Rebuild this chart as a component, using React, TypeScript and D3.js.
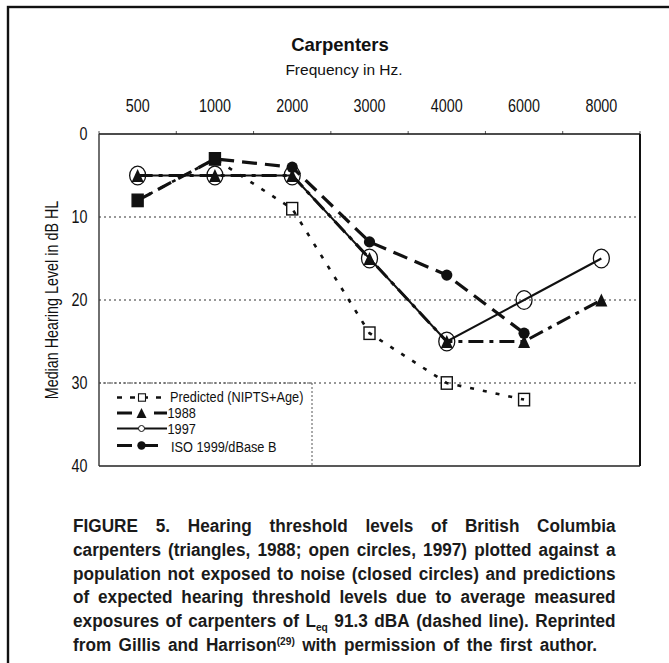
import React from "react";
import * as d3 from "d3";

// ---------- data ----------
const categories = ["500", "1000", "2000", "3000", "4000", "6000", "8000"];
const predicted: (number | null)[] = [8, 3, 9, 24, 30, 32, null];
const y1988: (number | null)[] = [5, 5, 5, 15, 25, 25, 20];
const y1997: (number | null)[] = [5, 5, 5, 15, 25, 20, 15];
const iso: (number | null)[] = [8, 3, 4, 13, 17, 24, null];
const yTicks = [0, 10, 20, 30, 40];
const gridValues = [10, 20, 30];
const legendLabels = ["Predicted (NIPTS+Age)", "1988", "1997", "ISO 1999/dBase B"];
const titleText = "Carpenters";
const subtitleText = "Frequency in Hz.";
const yLabelText = "Median Hearing Level in dB HL";

type Seg = { t: string; k?: "sub" | "sup" };
const captionLines: Seg[][][] = [
  "FIGURE 5. Hearing threshold levels of British Columbia".split(" ").map((w) => [{ t: w }]),
  "carpenters (triangles, 1988; open circles, 1997) plotted against a".split(" ").map((w) => [{ t: w }]),
  "population not exposed to noise (closed circles) and predictions".split(" ").map((w) => [{ t: w }]),
  "of expected hearing threshold levels due to average measured".split(" ").map((w) => [{ t: w }]),
  [
    ...("exposures of carpenters of".split(" ").map((w) => [{ t: w }] as Seg[])),
    [{ t: "L" }, { t: "eq", k: "sub" }],
    ...("91.3 dBA (dashed line). Reprinted".split(" ").map((w) => [{ t: w }] as Seg[])),
  ],
  [
    ...("from Gillis and".split(" ").map((w) => [{ t: w }] as Seg[])),
    [{ t: "Harrison" }, { t: "(29)", k: "sup" }],
    ...("with permission of the first author.".split(" ").map((w) => [{ t: w }] as Seg[])),
  ],
];

// ---------- font helpers ----------
const canvasCtx = (() => {
  try {
    return document.createElement("canvas").getContext("2d");
  } catch (e) {
    return null;
  }
})();

function fontAvailable(name: string): boolean {
  if (!canvasCtx) return false;
  const s = "mmmmmmmmmmlli1WWWabc";
  for (const base of ["monospace", "serif"]) {
    canvasCtx.font = `16px ${base}`;
    const a = canvasCtx.measureText(s).width;
    canvasCtx.font = `16px '${name}', ${base}`;
    const b = canvasCtx.measureText(s).width;
    if (Math.abs(a - b) > 0.01) return true;
  }
  return false;
}

const HAS_NARROW = fontAvailable("Liberation Sans Narrow");
const NARROW = HAS_NARROW ? "'Liberation Sans Narrow', 'Liberation Sans', Arial, sans-serif" : "'Liberation Sans', Arial, sans-serif";
const SX = HAS_NARROW ? 1 : 0.82;
const SANS = "'Liberation Sans', Arial, sans-serif";

function measure(text: string, font: string): number {
  if (!canvasCtx) return text.length * 8;
  canvasCtx.font = font;
  return canvasCtx.measureText(text).width;
}

// ---------- layout ----------
const W = 669;
const H = 663;
const plot = { left: 99, right: 640, top: 134, bottom: 466 };

const x = d3.scaleBand<string>().domain(categories).range([plot.left, plot.right]);
const cx = (c: string) => (x(c) as number) + x.bandwidth() / 2;
const y = d3.scaleLinear().domain([0, 40]).range([plot.top, plot.bottom]);

type Pt = { c: string; v: number | null };
const toPts = (arr: (number | null)[]): Pt[] => categories.map((c, i) => ({ c, v: arr[i] }));

const line = d3
  .line<Pt>()
  .defined((d) => d.v != null)
  .x((d) => cx(d.c))
  .y((d) => y(d.v as number));

const NText = ({ x: tx, y: ty, anchor, size, children, rotate, sx }: any) => (
  <text
    transform={`translate(${tx},${ty})${rotate ? ` rotate(${rotate})` : ""} scale(${sx ?? SX},1)`}
    textAnchor={anchor || "start"}
    fontFamily={NARROW}
    fontSize={size}
    fill="#111"
  >
    {children}
  </text>
);

function triPath(w: number, h: number) {
  return `M0,${-h / 2}L${w / 2},${h / 2}L${-w / 2},${h / 2}Z`;
}

function Caption() {
  const left = 73;
  const right = 615.5;
  const lastRight = 597;
  const size = 18.5;
  const small = 11;
  const base = 0.93;
  const mainFont = `bold ${size}px 'Liberation Sans', Arial, sans-serif`;
  const smallFont = `bold ${small}px 'Liberation Sans', Arial, sans-serif`;
  const out: JSX.Element[] = [];
  captionLines.forEach((tokens, li) => {
    const baseline = 532 + li * 23.8;
    const last = li === captionLines.length - 1;
    const target = (last ? lastRight : right) - left;
    const widths = tokens.map((tok) =>
      tok.reduce((s, seg) => s + measure(seg.t, seg.k ? smallFont : mainFont) * base, 0)
    );
    const total = widths.reduce((a, b) => a + b, 0);
    const normalSpace = measure(" ", mainFont) * base;
    let gap = (target - total) / (tokens.length - 1);
    let scale = base;
    let k = 1;
    if (gap < normalSpace * 0.7) {
      k = (target - normalSpace * 0.7 * (tokens.length - 1)) / total;
      gap = normalSpace * 0.7;
      scale = base * k;
    }
    let px = left;
    tokens.forEach((tok, ti) => {
      let sx = px;
      tok.forEach((seg, si) => {
        const f = seg.k ? smallFont : mainFont;
        const w = measure(seg.t, f) * scale;
        const dy = seg.k === "sub" ? 4 : seg.k === "sup" ? -6.5 : 0;
        out.push(
          <text
            key={`${li}-${ti}-${si}`}
            transform={`translate(${sx},${baseline + dy}) scale(${scale},1)`}
            fontFamily={SANS}
            fontWeight="bold"
            fontSize={seg.k ? small : size}
            fill="#1a1a1a"
          >
            {seg.t}
          </text>
        );
        sx += w;
      });
      px += widths[ti] * k + gap;
    });
  });
  return <g>{out}</g>;
}

export default function App() {
  const pPred = toPts(predicted);
  const p88 = toPts(y1988);
  const p97 = toPts(y1997);
  const pIso = toPts(iso);
  const boundaries = categories.map((c) => x(c) as number).concat([plot.right]);
  const legSX = SX * 1.05;

  return (
    <svg
      width={W}
      height={H}
      viewBox={`0 0 ${W} ${H}`}
      style={{ position: "absolute", left: 0, top: 0, background: "#fff" }}
    >
      <rect x={0} y={0} width={W} height={H} fill="#fff" />
      {/* outer frame */}
      <rect x={8} y={7} width={800} height={800} fill="none" stroke="#111" strokeWidth={2.4} />

      {/* title */}
      <text x={340} y={51} textAnchor="middle" fontFamily={SANS} fontWeight="bold" fontSize={18.5} fill="#111">
        {titleText}
      </text>
      <text x={344} y={75} textAnchor="middle" fontFamily={SANS} fontSize={15.5} fill="#111">
        {subtitleText}
      </text>

      {/* x labels (top) */}
      {categories.map((c) => (
        <NText key={c} x={cx(c)} y={111.5} anchor="middle" size={17.5}>
          {c}
        </NText>
      ))}
      {/* top tick marks */}
      {boundaries.map((b, i) => (
        <line key={i} x1={b} x2={b} y1={plot.top} y2={plot.top - 3} stroke="#555" strokeWidth={1} />
      ))}

      {/* y labels */}
      {yTicks.map((t) => (
        <NText key={t} x={87.5} y={y(t) + 6} anchor="end" size={17.5}>
          {t}
        </NText>
      ))}
      <NText x={58} y={(plot.top + plot.bottom) / 2} anchor="middle" size={17.5} rotate={-90}>
        {yLabelText}
      </NText>

      {/* grid lines */}
      {gridValues.map((g) => (
        <line
          key={g}
          x1={plot.left}
          x2={plot.right}
          y1={y(g)}
          y2={y(g)}
          stroke="#333"
          strokeWidth={1.2}
          strokeDasharray="2 3"
        />
      ))}

      {/* plot border */}
      <line x1={plot.left} x2={plot.right} y1={plot.top} y2={plot.top} stroke="#111" strokeWidth={1.6} />
      <line x1={plot.right} x2={plot.right} y1={plot.top} y2={plot.bottom} stroke="#111" strokeWidth={2} />
      <line x1={plot.left} x2={plot.right} y1={plot.bottom} y2={plot.bottom} stroke="#222" strokeWidth={1.6} />
      <line x1={plot.left} x2={plot.left} y1={plot.top} y2={plot.bottom} stroke="#333" strokeWidth={1.4} />

      {/* series lines */}
      <path d={line(pPred) || ""} fill="none" stroke="#111" strokeWidth={2.6} strokeDasharray="4 9" />
      <path d={line(p88) || ""} fill="none" stroke="#111" strokeWidth={3} strokeDasharray="15 6 4 6" />
      <path d={line(p97) || ""} fill="none" stroke="#111" strokeWidth={2} />
      <path d={line(pIso) || ""} fill="none" stroke="#111" strokeWidth={3.2} strokeDasharray="15 8" />

      {/* predicted squares */}
      {pPred
        .filter((d) => d.v != null)
        .map((d, i) => {
          const filled = iso[categories.indexOf(d.c)] === d.v;
          return (
            <rect
              key={"s" + i}
              x={cx(d.c) - 5.5}
              y={y(d.v as number) - 6.2}
              width={11}
              height={12.4}
              fill={filled ? "#111" : "none"}
              stroke="#111"
              strokeWidth={1.4}
            />
          );
        })}
      {/* 1997 open circles */}
      {p97
        .filter((d) => d.v != null)
        .map((d, i) => (
          <ellipse
            key={"o" + i}
            cx={cx(d.c)}
            cy={y(d.v as number)}
            rx={8}
            ry={9.3}
            fill="none"
            stroke="#111"
            strokeWidth={1.3}
          />
        ))}
      {/* 1988 triangles */}
      {p88
        .filter((d) => d.v != null)
        .map((d, i) => (
          <path
            key={"t" + i}
            d={triPath(12, 13)}
            transform={`translate(${cx(d.c)},${y(d.v as number)})`}
            fill="#111"
          />
        ))}
      {/* ISO filled circles */}
      {pIso
        .filter((d) => d.v != null)
        .filter((d) => predicted[categories.indexOf(d.c)] !== d.v)
        .map((d, i) => (
          <circle key={"f" + i} cx={cx(d.c)} cy={y(d.v as number)} r={5.6} fill="#111" />
        ))}

      {/* legend */}
      <g>
        <line x1={plot.left} x2={312} y1={383} y2={383} stroke="#555" strokeWidth={1} strokeDasharray="2 2" />
        <line x1={312} x2={312} y1={383} y2={plot.bottom} stroke="#555" strokeWidth={1} strokeDasharray="2 2" />
        {/* predicted */}
        <line x1={117} x2={166} y1={397.5} y2={397.5} stroke="#111" strokeWidth={2.4} strokeDasharray="5 8" />
        <rect x={138.5} y={393.8} width={7} height={7.4} fill="#fff" stroke="#111" strokeWidth={1.1} />
        <NText x={170} y={401.8} size={14.8} sx={legSX}>
          {legendLabels[0]}
        </NText>
        {/* 1988 */}
        <line x1={117} x2={167} y1={413} y2={413} stroke="#111" strokeWidth={3} strokeDasharray="15 22 13" />
        <path d={triPath(10, 10)} transform="translate(141.5,413)" fill="#111" />
        <NText x={167.5} y={418} size={14.8} sx={legSX}>
          {legendLabels[1]}
        </NText>
        {/* 1997 */}
        <line x1={117} x2={167} y1={428.5} y2={428.5} stroke="#111" strokeWidth={2} />
        <circle cx={141.5} cy={428.5} r={3} fill="#fff" stroke="#111" strokeWidth={1} />
        <NText x={167.5} y={433.5} size={14.8} sx={legSX}>
          {legendLabels[2]}
        </NText>
        {/* ISO */}
        <line x1={117} x2={158} y1={445.5} y2={445.5} stroke="#111" strokeWidth={3} strokeDasharray="15 11 15" />
        <circle cx={141.5} cy={445.5} r={4.2} fill="#111" />
        <NText x={171} y={452} size={14.8} sx={legSX}>
          {legendLabels[3]}
        </NText>
      </g>

      <Caption />
    </svg>
  );
}
